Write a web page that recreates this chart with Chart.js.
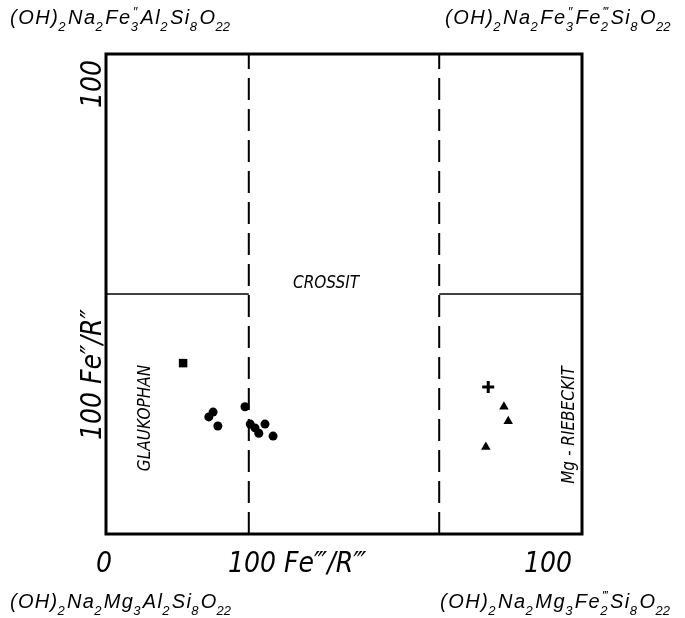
<!DOCTYPE html>
<html>
<head>
<meta charset="utf-8">
<script src="https://cdn.jsdelivr.net/npm/chart.js@4/dist/chart.umd.min.js"></script>
<style>
  body { margin: 0; background: #fff; }
  #wrap { width: 685px; height: 618px; position: relative; }
</style>
</head>
<body>
<div id="wrap"><canvas id="amphibol"></canvas></div>
<script>
// measured points, x = 100 Fe'''/R''', y = 100 Fe''/R''
const glaukX = [22.5, 21.6, 23.5, 29.2, 30.3, 31.3, 32.1, 33.4, 35.1];
const glaukY = [25.4, 24.4, 22.5, 26.5, 22.9, 22.1, 21.0, 22.9, 20.4];
const squareX = [16.2];
const squareY = [35.6];
const plusX = [80.3];
const plusY = [30.6];
const triX = [83.6, 84.5, 79.8];
const triY = [26.5, 23.5, 18.1];

// field boundaries
const splitX = [30, 70];
const splitY = 50;

const xTickLabels = ['0', '100'];
const yTickLabels = ['100'];
const xTitle = '100 Fe\u2034/R\u2034';
const yTitle = '100 Fe\u2033/R\u2033';
const fieldNames = ['GLAUKOPHAN', 'CROSSIT', 'Mg - RIEBECKIT'];
// _n = subscript, ^'' = superscript primes
const endMembers = [
    "(OH)_2Na_2Fe_3^''Al_2Si_8O_22",
    "(OH)_2Na_2Fe_3^''Fe_2^'''Si_8O_22",
    "(OH)_2Na_2Mg_3Al_2Si_8O_22",
    "(OH)_2Na_2Mg_3Fe_2^'''Si_8O_22"
];

const FONT = "'Liberation Sans Narrow', 'DejaVu Sans Condensed', 'Liberation Sans', sans-serif";
const FFONT = "'Liberation Sans', 'DejaVu Sans', sans-serif";

function pts(xs, ys) {
    return xs.map((x, i) => ({x: x, y: ys[i]}));
}

function line(data, width, dash) {
    return {
        type: 'line', data: data, borderColor: '#000', borderWidth: width,
        borderDash: dash, pointRadius: 0, fill: false, showLine: true
    };
}

function parseFormula(s) {
    const out = [];
    let i = 0;
    while (i < s.length) {
        const c = s[i];
        if (c === '_' || c === '^') {
            const tok = {b: '', p: ''};
            while (i < s.length && (s[i] === '_' || s[i] === '^')) {
                const mode = s[i]; i++;
                let v = '';
                if (mode === '_') { while (i < s.length && /[0-9]/.test(s[i])) v += s[i++]; tok.b = v; }
                else { while (i < s.length && s[i] === "'") v += s[i++]; tok.p = v; }
            }
            out.push(tok);
        } else {
            let v = '';
            while (i < s.length && s[i] !== '_' && s[i] !== '^') v += s[i++];
            out.push({t: v});
        }
    }
    return out;
}

// draws formula, spreading glyphs a little so it ends up about `target` px wide
function drawFormula(ctx, s, x, y, size, target) {
    const small = Math.round(size * 0.66);
    const toks = parseFormula(s);
    let nGlyph = 0;
    let natural = 0;
    const pieces = [];
    toks.forEach(tok => {
        if (tok.t) {
            ctx.font = 'italic ' + size + 'px ' + FFONT;
            for (const ch of tok.t) {
                const w = ctx.measureText(ch).width;
                pieces.push({ch: ch, w: w, f: ctx.font});
                natural += w; nGlyph++;
            }
        } else {
            ctx.font = 'italic ' + small + 'px ' + FFONT;
            const grp = [];
            let w = 0;
            if (tok.b) {
                w = ctx.measureText(tok.b).width;
                grp.push({ch: tok.b, dy: size * 0.36, dx: -1});
            }
            if (tok.p) {
                const pr = tok.p.length === 3 ? '\u2034' : '\u2033';
                w = Math.max(w, ctx.measureText(pr).width);
                grp.push({ch: pr, dy: -size * 0.4, dx: 1});
            }
            pieces.push({grp: grp, w: w, f: ctx.font});
            natural += w; nGlyph++;
        }
    });
    const gap = Math.min(1.5, Math.max(0, (target - natural) / (nGlyph - 1)));
    let cx = x;
    pieces.forEach(p => {
        ctx.font = p.f;
        if (p.grp) p.grp.forEach(g => ctx.fillText(g.ch, cx + g.dx, y + g.dy));
        else ctx.fillText(p.ch, cx, y);
        cx += p.w + gap;
    });
}

const annotate = {
    id: 'annotate',
    afterDraw(chart) {
        const ctx = chart.ctx;
        const a = chart.chartArea;
        const xs = chart.scales.x, ys = chart.scales.y;
        ctx.save();
        ctx.fillStyle = '#000';
        ctx.strokeStyle = '#000';
        // frame
        ctx.lineWidth = 3;
        ctx.strokeRect(a.left, a.top, a.right - a.left, a.bottom - a.top);

        // tick labels
        ctx.font = 'italic 28px ' + FONT;
        ctx.textBaseline = 'alphabetic';
        ctx.textAlign = 'center';
        ctx.fillText(xTickLabels[0], xs.getPixelForValue(0) - 2, 572);
        ctx.textAlign = 'right';
        ctx.fillText(xTickLabels[1], xs.getPixelForValue(100) - 10, 572);
        ctx.textAlign = 'left';
        ctx.fillText(xTitle, 228, 572);

        ctx.save();
        ctx.translate(101, ys.getPixelForValue(100) + 6);
        ctx.rotate(-Math.PI / 2);
        ctx.textAlign = 'right';
        ctx.fillText(yTickLabels[0], 0, 0);
        ctx.restore();

        ctx.save();
        ctx.translate(101, 440);
        ctx.rotate(-Math.PI / 2);
        ctx.textAlign = 'left';
        ctx.fillText(yTitle, 0, 0);
        ctx.restore();

        // field names
        ctx.font = 'italic 17px ' + FONT;
        ctx.textAlign = 'center';
        ctx.textBaseline = 'middle';
        ctx.save();
        ctx.translate(146, 418);
        ctx.rotate(-Math.PI / 2);
        ctx.fillText(fieldNames[0], 0, 0);
        ctx.restore();
        ctx.fillText(fieldNames[1], 326, 284);
        ctx.save();
        ctx.translate(570, 425);
        ctx.rotate(-Math.PI / 2);
        ctx.fillText(fieldNames[2], 0, 0);
        ctx.restore();

        // end member formulas
        ctx.textAlign = 'left';
        ctx.textBaseline = 'alphabetic';
        drawFormula(ctx, endMembers[0], 10, 24, 20, 236);
        drawFormula(ctx, endMembers[1], 445, 24, 20, 232);
        drawFormula(ctx, endMembers[2], 10, 608, 20, 222);
        drawFormula(ctx, endMembers[3], 440, 608, 20, 238);
        ctx.restore();
    }
};

new Chart(document.getElementById('amphibol'), {
    type: 'scatter',
    data: {
        datasets: [
            line([{x: splitX[0], y: 0}, {x: splitX[0], y: 100}], 2, [22, 9]),
            line([{x: splitX[1], y: 0}, {x: splitX[1], y: 100}], 2, [22, 9]),
            line([{x: 0, y: splitY}, {x: splitX[0], y: splitY}], 1.5, []),
            line([{x: splitX[1], y: splitY}, {x: 100, y: splitY}], 1.5, []),
            {data: pts(glaukX, glaukY), pointStyle: 'circle', pointRadius: 4.5,
             backgroundColor: '#000', borderColor: '#000', borderWidth: 0},
            {data: pts(squareX, squareY), pointStyle: 'rect', pointRadius: 6,
             backgroundColor: '#000', borderColor: '#000', borderWidth: 0},
            {data: pts(plusX, plusY), pointStyle: 'cross', pointRadius: 6,
             backgroundColor: '#000', borderColor: '#000', borderWidth: 3},
            {data: pts(triX, triY), pointStyle: 'triangle', pointRadius: 5.5,
             backgroundColor: '#000', borderColor: '#000', borderWidth: 0}
        ]
    },
    options: {
        responsive: true,
        maintainAspectRatio: false,
        animation: false,
        layout: {padding: {left: 106, top: 54, right: 103, bottom: 84}},
        scales: {
            x: {display: false, min: 0, max: 100},
            y: {display: false, min: 0, max: 100}
        },
        plugins: {
            legend: {display: false},
            tooltip: {enabled: false}
        }
    },
    plugins: [annotate]
});
</script>
</body>
</html>
